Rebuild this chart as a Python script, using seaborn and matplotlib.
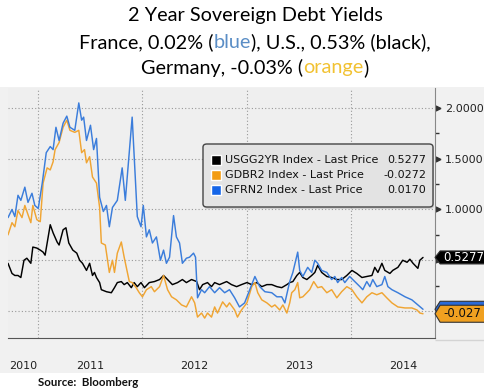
import matplotlib
matplotlib.use("Agg")
import matplotlib.pyplot as plt
import matplotlib.dates as mdates
from matplotlib.patches import Polygon, FancyBboxPatch, Rectangle
import pandas as pd
import seaborn as sns

# ---- data (2y yields, %) ----
fr_dates = ["2010-09-17", "2010-10-01", "2010-10-11", "2010-10-22", "2010-11-01", "2010-11-15",
            "2010-11-26", "2010-12-10", "2010-12-20", "2011-01-01", "2011-01-15", "2011-01-29",
            "2011-02-12", "2011-02-22", "2011-03-04", "2011-03-15", "2011-03-29", "2011-04-11",
            "2011-04-22", "2011-05-09", "2011-05-23", "2011-06-02", "2011-06-09", "2011-06-19",
            "2011-07-03", "2011-07-14", "2011-07-24", "2011-08-04", "2011-08-17", "2011-08-28",
            "2011-09-07", "2011-09-18", "2011-10-05", "2011-10-22", "2011-11-02", "2011-11-26",
            "2011-12-14", "2011-12-27", "2012-01-04", "2012-01-15", "2012-01-25", "2012-02-05",
            "2012-02-19", "2012-03-04", "2012-03-15", "2012-03-25", "2012-04-05", "2012-04-19",
            "2012-04-29", "2012-05-10", "2012-05-20", "2012-06-03", "2012-06-14", "2012-06-28",
            "2012-07-05", "2012-07-12", "2012-07-26", "2012-08-06", "2012-08-23", "2012-09-10",
            "2012-09-27", "2012-10-15", "2012-11-01", "2012-11-19", "2012-12-06", "2012-12-24",
            "2013-01-11", "2013-01-29", "2013-02-15", "2013-03-05", "2013-03-29", "2013-04-16",
            "2013-05-03", "2013-05-14", "2013-05-31", "2013-06-11", "2013-06-28", "2013-07-05",
            "2013-07-16", "2013-08-02", "2013-08-16", "2013-08-27", "2013-09-06", "2013-09-20",
            "2013-10-08", "2013-10-25", "2013-11-05", "2013-11-15", "2013-11-29", "2013-12-10",
            "2013-12-27", "2014-01-14", "2014-02-01", "2014-02-11", "2014-02-25", "2014-03-08",
            "2014-03-18", "2014-04-01", "2014-04-19", "2014-04-29", "2014-05-10", "2014-05-24",
            "2014-06-14", "2014-07-09", "2014-08-02", "2014-08-23", "2014-09-10"]
fr_yield = [0.92, 1.00, 0.93, 1.14, 1.09, 1.22, 1.07, 1.16, 1.04, 1.01, 1.26, 1.56,
            1.62, 1.59, 1.81, 1.68, 1.85, 1.92, 1.81, 1.78, 2.05, 1.88, 1.91, 1.68,
            1.83, 1.59, 1.70, 1.12, 0.98, 1.04, 0.83, 1.02, 1.09, 1.41, 1.09, 1.91,
            0.93, 0.83, 1.04, 0.73, 0.80, 0.67, 0.73, 0.50, 0.60, 0.47, 0.53, 0.94,
            0.73, 0.67, 0.47, 0.52, 0.53, 0.57, 0.53, 0.13, 0.21, 0.18, 0.24, 0.18,
            0.23, 0.18, 0.21, 0.13, 0.04, 0.08, 0.21, 0.34, 0.24, 0.19, 0.18, 0.14,
            0.14, 0.08, 0.29, 0.38, 0.58, 0.40, 0.34, 0.43, 0.38, 0.50, 0.47, 0.40,
            0.38, 0.31, 0.34, 0.28, 0.33, 0.28, 0.34, 0.29, 0.24, 0.21, 0.29, 0.24,
            0.31, 0.24, 0.26, 0.34, 0.24, 0.21, 0.18, 0.14, 0.11, 0.06, 0.017]

de_dates = ["2010-09-17", "2010-10-01", "2010-10-11", "2010-10-22", "2010-11-05", "2010-11-15",
            "2010-11-26", "2010-12-06", "2010-12-13", "2010-12-27", "2011-01-08", "2011-01-18",
            "2011-02-01", "2011-02-12", "2011-02-22", "2011-03-01", "2011-03-15", "2011-03-29",
            "2011-04-11", "2011-04-22", "2011-05-09", "2011-05-23", "2011-06-02", "2011-06-12",
            "2011-06-19", "2011-06-30", "2011-07-10", "2011-07-24", "2011-08-04", "2011-08-10",
            "2011-08-24", "2011-09-07", "2011-09-18", "2011-09-25", "2011-10-05", "2011-10-19",
            "2011-10-29", "2011-11-16", "2011-11-26", "2011-12-10", "2011-12-21", "2012-01-01",
            "2012-01-15", "2012-02-01", "2012-02-12", "2012-03-01", "2012-03-15", "2012-03-29",
            "2012-04-12", "2012-04-29", "2012-05-17", "2012-06-03", "2012-06-21", "2012-07-02",
            "2012-07-12", "2012-07-26", "2012-08-06", "2012-08-16", "2012-08-30", "2012-09-10",
            "2012-09-20", "2012-10-08", "2012-10-22", "2012-11-01", "2012-11-19", "2012-11-29",
            "2012-12-13", "2013-01-01", "2013-01-18", "2013-01-29", "2013-02-08", "2013-02-22",
            "2013-03-12", "2013-03-29", "2013-04-09", "2013-04-26", "2013-05-07", "2013-05-21",
            "2013-05-31", "2013-06-07", "2013-06-18", "2013-06-28", "2013-07-05", "2013-07-16",
            "2013-07-30", "2013-08-09", "2013-08-23", "2013-09-06", "2013-09-20", "2013-10-08",
            "2013-10-25", "2013-11-12", "2013-11-29", "2013-12-17", "2014-01-04", "2014-01-21",
            "2014-02-08", "2014-02-25", "2014-03-15", "2014-04-01", "2014-04-19", "2014-05-06",
            "2014-05-24", "2014-06-14", "2014-07-09", "2014-08-02", "2014-08-20", "2014-08-30",
            "2014-09-10"]
de_yield = [0.75, 0.87, 0.83, 0.99, 0.92, 1.04, 0.95, 0.87, 1.04, 0.90, 0.88, 1.26,
            1.41, 1.39, 1.47, 1.59, 1.66, 1.81, 1.88, 1.78, 1.76, 1.78, 1.56, 1.59,
            1.46, 1.52, 1.32, 1.26, 1.02, 0.67, 0.65, 0.38, 0.50, 0.38, 0.57, 0.68,
            0.53, 0.29, 0.28, 0.23, 0.18, 0.14, 0.21, 0.24, 0.19, 0.24, 0.35, 0.21,
            0.14, 0.11, 0.06, 0.04, 0.14, 0.08, -0.06, -0.02, -0.07, -0.02, -0.06, 0.04,
            -0.02, 0.09, 0.04, 0.08, 0.01, -0.06, 0.01, 0.08, 0.24, 0.28, 0.18, 0.11,
            0.08, 0.04, 0.06, 0.01, 0.06, -0.02, 0.08, 0.18, 0.21, 0.28, 0.13, 0.14,
            0.18, 0.21, 0.29, 0.23, 0.24, 0.18, 0.21, 0.13, 0.19, 0.24, 0.21, 0.14,
            0.08, 0.14, 0.18, 0.16, 0.18, 0.13, 0.08, 0.04, 0.03, 0.03, 0.01, -0.02,
            -0.0272]

us_dates = ["2010-09-17", "2010-10-01", "2010-10-11", "2010-10-22", "2010-11-01", "2010-11-12",
            "2010-11-22", "2010-12-06", "2010-12-13", "2010-12-27", "2011-01-08", "2011-01-18",
            "2011-01-25", "2011-02-12", "2011-02-22", "2011-03-08", "2011-03-15", "2011-03-29",
            "2011-04-08", "2011-04-18", "2011-05-02", "2011-05-16", "2011-05-26", "2011-06-05",
            "2011-06-19", "2011-06-30", "2011-07-10", "2011-07-17", "2011-07-24", "2011-08-04",
            "2011-08-10", "2011-08-28", "2011-09-14", "2011-09-25", "2011-10-05", "2011-10-19",
            "2011-10-29", "2011-11-09", "2011-11-23", "2011-12-03", "2011-12-14", "2011-12-27",
            "2012-01-08", "2012-01-25", "2012-02-12", "2012-03-01", "2012-03-15", "2012-03-29",
            "2012-04-15", "2012-05-03", "2012-05-20", "2012-06-03", "2012-06-21", "2012-07-09",
            "2012-07-19", "2012-07-30", "2012-08-16", "2012-08-30", "2012-09-10", "2012-09-27",
            "2012-10-22", "2012-11-08", "2012-11-26", "2012-12-13", "2013-01-01", "2013-01-18",
            "2013-02-05", "2013-02-22", "2013-03-12", "2013-03-29", "2013-04-16", "2013-05-03",
            "2013-05-21", "2013-05-31", "2013-06-11", "2013-06-25", "2013-07-05", "2013-07-16",
            "2013-07-30", "2013-08-16", "2013-08-27", "2013-09-06", "2013-09-20", "2013-10-08",
            "2013-10-25", "2013-11-12", "2013-11-29", "2013-12-17", "2014-01-04", "2014-01-21",
            "2014-02-08", "2014-02-25", "2014-03-15", "2014-03-25", "2014-04-05", "2014-04-19",
            "2014-04-29", "2014-05-17", "2014-05-27", "2014-06-14", "2014-07-01", "2014-07-16",
            "2014-07-26", "2014-08-06", "2014-08-23", "2014-08-30", "2014-09-10"]
us_yield = [0.47, 0.37, 0.35, 0.35, 0.33, 0.50, 0.52, 0.47, 0.63, 0.62, 0.60, 0.58,
            0.55, 0.85, 0.77, 0.68, 0.65, 0.80, 0.82, 0.67, 0.60, 0.57, 0.50, 0.47,
            0.40, 0.47, 0.35, 0.38, 0.33, 0.28, 0.21, 0.19, 0.18, 0.23, 0.28, 0.29,
            0.26, 0.28, 0.23, 0.28, 0.24, 0.28, 0.23, 0.28, 0.29, 0.31, 0.35, 0.31,
            0.26, 0.28, 0.31, 0.28, 0.31, 0.29, 0.21, 0.26, 0.28, 0.24, 0.28, 0.26,
            0.29, 0.26, 0.24, 0.26, 0.28, 0.26, 0.28, 0.24, 0.26, 0.26, 0.24, 0.23,
            0.26, 0.28, 0.29, 0.35, 0.38, 0.33, 0.31, 0.35, 0.38, 0.45, 0.38, 0.34,
            0.33, 0.31, 0.31, 0.35, 0.40, 0.37, 0.33, 0.34, 0.35, 0.43, 0.38, 0.47,
            0.40, 0.37, 0.40, 0.43, 0.50, 0.48, 0.51, 0.47, 0.42, 0.50, 0.5277]

legend_names = ["USGG2YR Index - Last Price", "GDBR2 Index - Last Price", "GFRN2 Index - Last Price"]
legend_values = ["0.5277", "-0.0272", "0.0170"]
yticks = [0.0, 0.5, 1.0, 1.5, 2.0]
years = [2010, 2011, 2012, 2013, 2014]

BLACK, ORANGE, BLUE = "#000000", "#f0a533", "#3b7ddb"
PANEL = "#efefef"
W, H = 485, 392

sns.set_style("white")
plt.rcParams["font.family"] = ["DejaVu Sans"]


def fx(x):
    return x / W


def fy(y):
    return 1 - y / H


fig = plt.figure(figsize=(W / 100, H / 100), dpi=100)
# grey Bloomberg panel behind plot, right axis and date strip
fig.add_artist(Rectangle((0, fy(373)), 1, (373 - 87) / H, facecolor="#f1f1f1",
                         edgecolor="none", transform=fig.transFigure, zorder=0))
fig.add_artist(Rectangle((fx(435), fy(340)), 1, 0, edgecolor="#d4d4d4", lw=1,
                         transform=fig.transFigure, zorder=0))

ax = fig.add_axes([fx(8), fy(338), (435 - 8) / W, (338 - 88) / H])
ax.set_facecolor(PANEL)

for d, v, c in [(us_dates, us_yield, BLACK), (de_dates, de_yield, ORANGE), (fr_dates, fr_yield, BLUE)]:
    sns.lineplot(x=pd.to_datetime(d), y=v, color=c, lw=1.05, ax=ax)

x0, x1 = pd.Timestamp("2010-09-17"), pd.Timestamp("2014-10-22")
ax.set_xlim(x0, x1)
ax.set_ylim(-0.266, 2.197)

# y axis on the right
ax.yaxis.tick_right()
ax.set_yticks(yticks)
ax.set_yticks([0.25, 0.75, 1.25, 1.75], minor=True)
ax.set_yticklabels([f"{t:.4f}" if t >= 1 else "" for t in yticks], fontsize=8, color="#222")
ax.tick_params(axis="y", which="major", length=0, pad=7)
ax.tick_params(axis="y", which="minor", length=3, width=1, color="#333", direction="out")
ax.plot([1.006] * len(yticks), yticks, ls="none", marker=">", ms=3.5, color="#333",
        transform=ax.get_yaxis_transform(), clip_on=False)

# x axis: year separators and quarterly ticks
ax.xaxis.set_major_locator(mdates.YearLocator())
ax.xaxis.set_minor_locator(mdates.MonthLocator(bymonth=[4, 7, 10]))
ax.xaxis.set_major_formatter(plt.NullFormatter())
ax.tick_params(axis="x", which="major", length=25, width=0.9, color="#808080")
ax.tick_params(axis="x", which="minor", length=3, width=1, color="#333")
for yr in years:
    a = max(pd.Timestamp(f"{yr}-01-01"), x0)
    b = pd.Timestamp(f"{yr + 1}-01-01")
    ax.text(a + (b - a) / 2, -0.112, str(yr), transform=ax.get_xaxis_transform(),
            ha="center", va="center", fontsize=8, color="#222")

ax.grid(True, which="major", linestyle=(0, (1, 2)), color="#999", lw=0.8)
for s in ["left", "top"]:
    ax.spines[s].set_visible(False)
ax.spines["bottom"].set_color("#555")
ax.spines["right"].set_color("#888")
ax.set_xlabel("")
ax.set_ylabel("")

# last-price tags on the right axis
dpp = (2.197 + 0.266) / 250


def tag(v, face, txt, tcol, half, z):
    h = half * dpp
    pts = [(1.0, v), (1.012, v + h), (1.3, v + h), (1.3, v - h), (1.012, v - h)]
    ax.add_patch(Polygon(pts, closed=True, facecolor=face, edgecolor="#333", lw=0.8,
                         transform=ax.get_yaxis_transform(), clip_on=False, zorder=z))
    if txt:
        ax.text(1.019, v, txt, transform=ax.get_yaxis_transform(), color=tcol, fontsize=8.5,
                va="center", ha="left", clip_on=False, zorder=z + 0.5)


tag(fr_yield[-1], "#2a6ad8", "", "white", 8, 5)
tag(de_yield[-1], "#f0a020", "-0.027", "#111", 8.5, 6)
tag(us_yield[-1], "#000000", "0.5277", "white", 6.5, 6)

# legend box
fig.add_artist(FancyBboxPatch((fx(204), fy(209)), (433 - 203) / W, (207 - 144) / H,
                              boxstyle="round,pad=0,rounding_size=0.008",
                              facecolor="#bdbdbd", edgecolor="none", alpha=0.6,
                              transform=fig.transFigure))
fig.add_artist(FancyBboxPatch((fx(203), fy(207)), (433 - 203) / W, (207 - 144) / H,
                              boxstyle="round,pad=0,rounding_size=0.008",
                              facecolor="#e3e3e3", edgecolor="#444", lw=1,
                              transform=fig.transFigure))
for i, (name, val, c) in enumerate(zip(legend_names, legend_values, [BLACK, "#f39c12", "#1565e8"])):
    yc = 160 + 15 * i
    fig.add_artist(Rectangle((fx(211), fy(yc + 5)), 10 / W, 10 / H, facecolor=c,
                             transform=fig.transFigure))
    fig.text(fx(225), fy(yc), name, fontsize=8, va="center", ha="left", color="#111")
    fig.text(fx(426), fy(yc), val, fontsize=8, va="center", ha="right", color="#111")

# title with coloured words
title_lines = [
    [("2 Year Sovereign Debt Yields", "#000")],
    [("France, 0.02% (", "#000"), ("blue", "#5b8ec6"), ("), U.S., 0.53% (black),", "#000")],
    [("Germany, -0.03% (", "#000"), ("orange", "#f2c232"), (")", "#000")],
]
title_y = [15, 42, 68]
renderer = fig.canvas.get_renderer()
for parts, ypx in zip(title_lines, title_y):
    texts = [fig.text(0, fy(ypx), s, color=c, fontsize=14.3, family=["Lato", "DejaVu Sans"],
                      va="center", ha="left") for s, c in parts]
    widths = [t.get_window_extent(renderer).width for t in texts]
    xpos = 255 - sum(widths) / 2
    for t, w in zip(texts, widths):
        t.set_x(fx(xpos))
        xpos += w

fig.text(fx(38), fy(382), "Source:  Bloomberg", fontsize=8.3, fontweight="bold",
         family=["Lato", "DejaVu Sans"], va="center", ha="left", color="#111")

fig.savefig("out.png", dpi=100, facecolor="white")
